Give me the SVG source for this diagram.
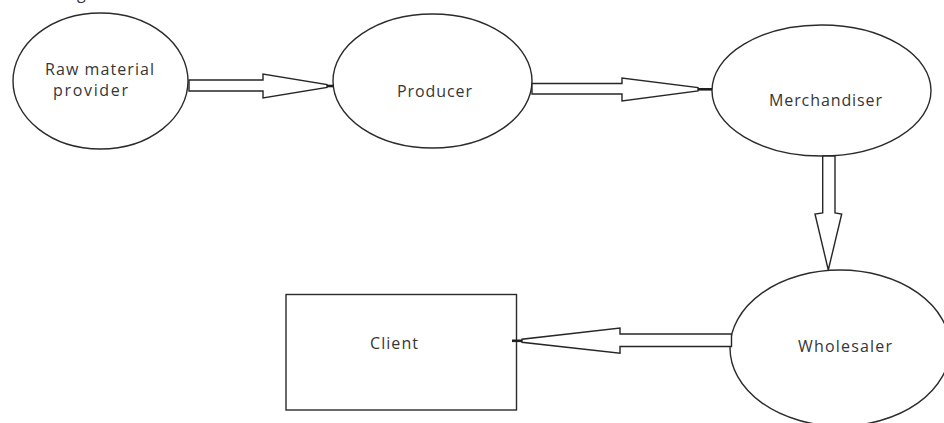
<svg xmlns="http://www.w3.org/2000/svg" width="944" height="423" viewBox="0 0 944 423">
  <style>
    .shape { fill: #ffffff; stroke: #2b2b2b; stroke-width: 1.4; }
    .arrow { fill: #ffffff; stroke: #262626; stroke-width: 1.4; stroke-linejoin: miter; }
    .neck { stroke: #1e1e1e; stroke-width: 2.6; fill: none; }
    .label { font-family: "Open Sans", "Liberation Sans", sans-serif; font-size: 16px; fill: #363636; }
  </style>
  <rect width="944" height="423" fill="#ffffff"/>

  <!-- trailing glyph of a line above the frame -->
  <text class="label" x="77" y="-1">g</text>

  <g id="raw-material-provider">
    <ellipse class="shape" cx="100.5" cy="81" rx="87.5" ry="68"/>
    <text class="label" x="45" y="75" textLength="109" lengthAdjust="spacing">Raw material</text>
    <text class="label" x="53" y="95.5" textLength="75" lengthAdjust="spacing">provider</text>
  </g>

  <g id="producer">
    <ellipse class="shape" cx="432.5" cy="81" rx="99.5" ry="67"/>
    <text class="label" x="397" y="97" textLength="75" lengthAdjust="spacing">Producer</text>
  </g>

  <g id="merchandiser">
    <ellipse class="shape" cx="821.5" cy="90.5" rx="109.5" ry="65.5"/>
    <text class="label" x="769" y="105.5" textLength="113" lengthAdjust="spacing">Merchandiser</text>
  </g>

  <g id="wholesaler">
    <ellipse class="shape" cx="840" cy="348" rx="110" ry="78"/>
    <text class="label" x="798" y="351.5" textLength="94" lengthAdjust="spacing">Wholesaler</text>
  </g>

  <g id="client">
    <rect class="shape" x="286" y="294.5" width="230.5" height="115.5"/>
    <text class="label" x="370" y="349" textLength="48" lengthAdjust="spacing">Client</text>
  </g>

  <g id="connectors">
    <!-- raw material provider to producer -->
    <polygon class="arrow" points="189,80 263,80 263,74 327,84.5 327,87.5 263,98 263,91 189,91"/>
    <line class="neck" x1="327" y1="86" x2="334" y2="86"/>

    <!-- producer to merchandiser -->
    <polygon class="arrow" points="532,83.5 622,83.5 622,78 698,87.5 698,91 622,101 622,94 532,94"/>
    <line class="neck" x1="698" y1="89.3" x2="712" y2="89.3"/>

    <!-- merchandiser to wholesaler -->
    <polygon class="arrow" points="822.7,156 822.7,213 815,214 828.3,270 841.7,214 835,213 835,156"/>

    <!-- wholesaler to client -->
    <polygon class="arrow" points="731.5,334 620,334 620,328 522,339.2 522,342.3 620,353.3 620,346.5 731.5,346.5"/>
    <line class="neck" x1="512" y1="340.8" x2="522" y2="340.8"/>
  </g>
</svg>
